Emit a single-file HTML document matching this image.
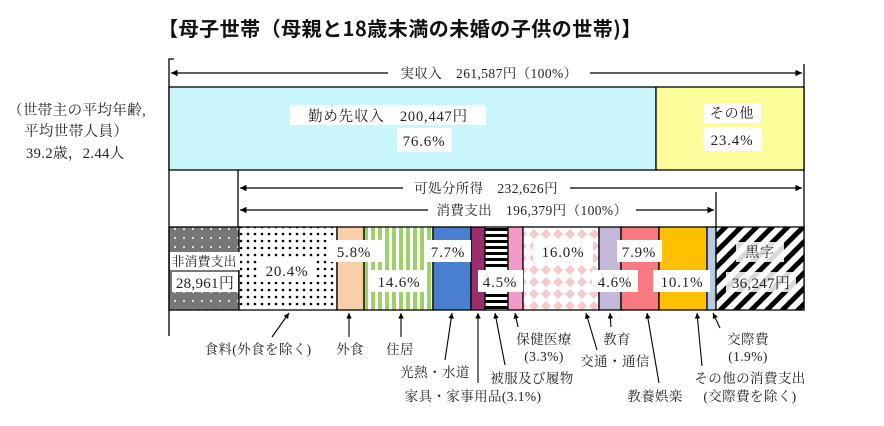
<!DOCTYPE html>
<html><head><meta charset="utf-8"><style>
html,body{margin:0;padding:0;background:#fff;width:884px;height:426px;overflow:hidden}
svg{display:block}
.s{font-family:"Liberation Serif","Noto Serif CJK SC",serif;font-size:13.5px;fill:#222;letter-spacing:0.4px}
.b{font-family:"Liberation Serif","Noto Serif CJK SC",serif;font-size:15px;fill:#222;letter-spacing:0.8px}
</style></head><body>
<svg width="884" height="426" viewBox="0 0 884 426" xmlns="http://www.w3.org/2000/svg">
<defs>
<pattern id="gd" width="9" height="9" patternUnits="userSpaceOnUse"><rect width="9" height="9" fill="#777"/><circle cx="4" cy="4" r="1" fill="#fff"/></pattern>
<pattern id="wd" width="7" height="7" patternUnits="userSpaceOnUse"><rect width="7" height="7" fill="#fff"/><circle cx="3" cy="3" r="1.3" fill="#000"/></pattern>
<pattern id="gs" width="7" height="7" patternUnits="userSpaceOnUse"><rect width="7" height="7" fill="#fff"/><rect width="4" height="7" fill="#9fd06a"/></pattern>
<pattern id="hs" width="6" height="6" patternUnits="userSpaceOnUse"><rect width="6" height="6" fill="#fff"/><rect width="6" height="3" fill="#000"/></pattern>
<pattern id="dm" width="12" height="12" patternUnits="userSpaceOnUse"><rect width="12" height="12" fill="#fff"/><path d="M6 1L11 6L6 11L1 6Z" fill="#f6c8cc"/></pattern>
<pattern id="ds" width="11" height="11" patternUnits="userSpaceOnUse" patternTransform="rotate(-45)"><rect width="11" height="11" fill="#fff"/><rect width="11" height="5" fill="#000"/></pattern>
<marker id="ar" viewBox="0 0 10 10" refX="10" refY="5" markerWidth="7" markerHeight="5" orient="auto"><path d="M0 0L10 5L0 10Z" fill="#000"/></marker>
</defs>
<text x="400" y="36" text-anchor="middle" style="font-family:'Noto Sans CJK JP',sans-serif;font-weight:bold;font-size:20px;letter-spacing:0.5px" fill="#111">【母子世帯（母親と18歳未満の未婚の子供の世帯)】</text>
<g class="s" style="font-size:14.5px">
<text x="8" y="115">（世帯主の平均年齢,</text>
<text x="24" y="136">平均世帯人員）</text>
<text x="26" y="158">39.2歳，2.44人</text>
</g>
<g stroke="#000" stroke-width="1.3" fill="none">
<path d="M174 59H169V336"/>
<line x1="804" y1="64" x2="804" y2="310"/>
<line x1="238" y1="170" x2="238" y2="227"/>
<line x1="716" y1="192" x2="716" y2="227"/>
<line x1="388" y1="73" x2="171" y2="73" marker-end="url(#ar)"/>
<line x1="590" y1="73" x2="802" y2="73" marker-end="url(#ar)"/>
<line x1="403" y1="188" x2="240" y2="188" marker-end="url(#ar)"/>
<line x1="570" y1="188" x2="802" y2="188" marker-end="url(#ar)"/>
<line x1="428" y1="210" x2="240" y2="210" marker-end="url(#ar)"/>
<line x1="636" y1="210" x2="714" y2="210" marker-end="url(#ar)"/>
</g>
<g class="s">
<text x="489" y="78" text-anchor="middle">実収入　261,587円（100%）</text>
<text x="486" y="193" text-anchor="middle">可処分所得　232,626円</text>
<text x="532" y="215" text-anchor="middle">消費支出　196,379円（100%）</text>
</g>
<rect x="169" y="87" width="487" height="83" fill="#c8f6fa" stroke="#000" stroke-width="1.3"/>
<rect x="656" y="87" width="148" height="83" fill="#fdfc9a" stroke="#000" stroke-width="1.3"/>
<rect x="290" y="105" width="196" height="20" fill="#fff"/>
<rect x="397" y="128" width="55" height="24" fill="#fff"/>
<rect x="703" y="103" width="58" height="20" fill="#fff"/>
<rect x="703" y="127" width="59" height="24" fill="#fff"/>
<g class="b">
<text x="388" y="121" text-anchor="middle" style="font-size:14.5px">勤め先収入　200,447円</text>
<text x="424" y="146" text-anchor="middle">76.6%</text>
<text x="732" y="118" text-anchor="middle" style="font-size:14px">その他</text>
<text x="732" y="145" text-anchor="middle">23.4%</text>
</g>
<g stroke="#000" stroke-width="1.3">
<rect x="169" y="227" width="70" height="83" fill="url(#gd)"/>
<rect x="239" y="227" width="98" height="83" fill="url(#wd)"/>
<rect x="337" y="227" width="27" height="83" fill="#f8cfa8"/>
<rect x="364" y="227" width="69" height="83" fill="url(#gs)"/>
<rect x="433" y="227" width="38" height="83" fill="#4a7fd0"/>
<rect x="471" y="227" width="14" height="83" fill="#9b2d6a"/>
<rect x="485" y="227" width="23" height="83" fill="url(#hs)"/>
<rect x="508" y="227" width="15" height="83" fill="#f49ac8"/>
<rect x="523" y="227" width="76" height="83" fill="url(#dm)"/>
<rect x="599" y="227" width="22" height="83" fill="#c4b8d8"/>
<rect x="621" y="227" width="38" height="83" fill="#f87a80"/>
<rect x="659" y="227" width="48" height="83" fill="#ffc000"/>
<rect x="707" y="227" width="9" height="83" fill="#b8cce4"/>
<rect x="716" y="227" width="88" height="83" fill="url(#ds)"/>
</g>
<g fill="#fff">
<rect x="170" y="252" width="70" height="18"/>
<rect x="172" y="272" width="66" height="20"/>
<rect x="260" y="258" width="55" height="24"/>
<rect x="327" y="240" width="55" height="22"/>
<rect x="371" y="270" width="56" height="22"/>
<rect x="425" y="240" width="46" height="22"/>
<rect x="478" y="270" width="45" height="22"/>
<rect x="533" y="240" width="60" height="22"/>
<rect x="592" y="270" width="46" height="22"/>
<rect x="617" y="240" width="45" height="22"/>
<rect x="653" y="270" width="57" height="22"/>
<rect x="736" y="242" width="48" height="20" opacity="0.85"/>
<rect x="726" y="272" width="70" height="20" opacity="0.85"/>
</g>
<g class="b">
<text x="204" y="266" text-anchor="middle" style="font-size:13px;letter-spacing:0">非消費支出</text>
<text x="205" y="288" text-anchor="middle" style="letter-spacing:0.3px">28,961円</text>
<text x="287" y="276" text-anchor="middle">20.4%</text>
<text x="354" y="257" text-anchor="middle">5.8%</text>
<text x="399" y="287" text-anchor="middle">14.6%</text>
<text x="448" y="257" text-anchor="middle">7.7%</text>
<text x="500" y="287" text-anchor="middle">4.5%</text>
<text x="563" y="257" text-anchor="middle">16.0%</text>
<text x="615" y="287" text-anchor="middle">4.6%</text>
<text x="639" y="257" text-anchor="middle">7.9%</text>
<text x="682" y="287" text-anchor="middle">10.1%</text>
<text x="760" y="257" text-anchor="middle" style="font-size:14px">黒字</text>
<text x="761" y="288" text-anchor="middle" style="letter-spacing:0.3px">36,247円</text>
</g>
<g stroke="#000" stroke-width="1.1" fill="none">
<line x1="272" y1="337" x2="289" y2="313" marker-end="url(#ar)"/>
<line x1="349" y1="337" x2="349" y2="313" marker-end="url(#ar)"/>
<line x1="401" y1="337" x2="401" y2="313" marker-end="url(#ar)"/>
<line x1="445" y1="360" x2="452" y2="313" marker-end="url(#ar)"/>
<line x1="478" y1="383" x2="478" y2="313" marker-end="url(#ar)"/>
<line x1="505" y1="365" x2="495" y2="313" marker-end="url(#ar)"/>
<line x1="518" y1="327" x2="515" y2="313" marker-end="url(#ar)"/>
<line x1="597" y1="350" x2="586" y2="313" marker-end="url(#ar)"/>
<line x1="611" y1="327" x2="610" y2="313" marker-end="url(#ar)"/>
<line x1="659" y1="383" x2="647" y2="313" marker-end="url(#ar)"/>
<line x1="702" y1="366" x2="697" y2="313" marker-end="url(#ar)"/>
<line x1="720" y1="328" x2="713" y2="313" marker-end="url(#ar)"/>
</g>
<g class="s">
<text x="258" y="354" text-anchor="middle">食料(外食を除く)</text>
<text x="350" y="354" text-anchor="middle">外食</text>
<text x="400" y="354" text-anchor="middle">住居</text>
<text x="435" y="377" text-anchor="middle">光熱・水道</text>
<text x="473" y="401" text-anchor="middle">家具・家事用品(3.1%)</text>
<text x="532" y="383" text-anchor="middle">被服及び履物</text>
<text x="544" y="344" text-anchor="middle">保健医療</text>
<text x="544" y="361" text-anchor="middle">(3.3%)</text>
<text x="617" y="344" text-anchor="middle">教育</text>
<text x="615" y="366" text-anchor="middle">交通・通信</text>
<text x="655" y="401" text-anchor="middle">教養娯楽</text>
<text x="748" y="344" text-anchor="middle">交際費</text>
<text x="748" y="361" text-anchor="middle">(1.9%)</text>
<text x="750" y="383" text-anchor="middle">その他の消費支出</text>
<text x="750" y="401" text-anchor="middle">(交際費を除く)</text>
</g>
</svg>
</body></html>
